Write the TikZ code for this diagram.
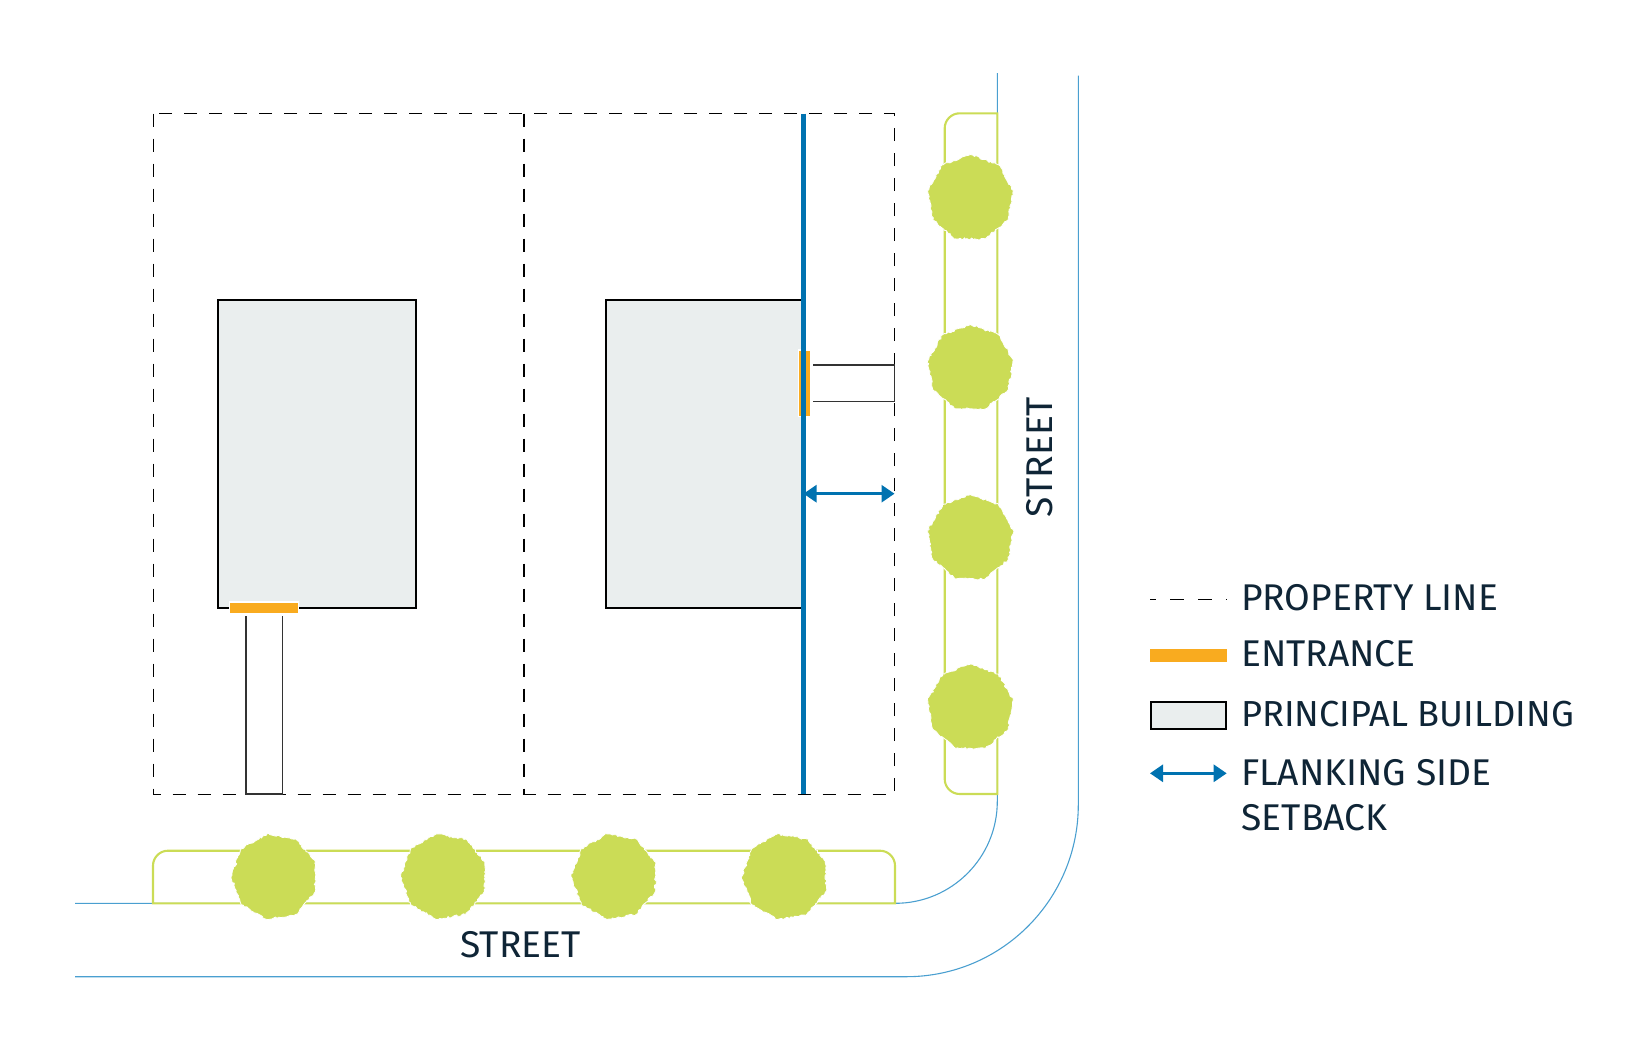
\documentclass[tikz,border=0pt]{standalone}
\usepackage{fontspec}
\setmainfont{Fira Sans}
\usetikzlibrary{arrows.meta,shapes.geometric,decorations.pathmorphing}
\definecolor{roadblue}{HTML}{4A9FD0}
\definecolor{flankblue}{HTML}{0072B0}
\definecolor{stripgreen}{HTML}{CBDC56}
\definecolor{entryorange}{HTML}{F9AB1F}
\definecolor{buildgrey}{HTML}{EAEEEE}
\definecolor{labelnavy}{HTML}{0F2536}
\tikzset{
	propline/.style={black, line width=0.5pt, dash pattern=on 6.5pt off 6pt},
	road/.style={roadblue, line width=0.55pt},
	strip/.style={stripgreen, line width=1.05pt},
	building/.style={draw=black, line width=1pt, fill=buildgrey},
	walk/.style={black!80, line width=0.55pt},
	entrance/.style={fill=entryorange, draw=white, line width=0.6pt},
	flank/.style={flankblue, line width=2.1pt},
	setback/.style={flankblue, line width=1.4pt, {Triangle[length=6.5pt,width=8.5pt]}-{Triangle[length=6.5pt,width=8.5pt]}},
	tree/.style={regular polygon, regular polygon sides=9, minimum size=43.5pt, inner sep=0pt, fill=stripgreen, draw=white, line width=0.4pt, decorate, decoration={random steps, segment length=1pt, amplitude=0.5pt}},
	lab/.style={text=labelnavy, font=\fontsize{18.6}{22.5}\selectfont, inner sep=0pt, anchor=base west}
}
\begin{document}
\begin{tikzpicture}[x=0.5pt, y=-0.5pt]
	\pgfmathsetseed{11}
	\useasboundingbox (0,0) rectangle (1650,1050);
	% street edges
	\draw[road] (75,903.3) [rounded corners=51pt] --(997.3,903.3)--(997.3,73);
	\draw[road] (75,976.7) [rounded corners=86pt] --(1078.3,976.7)--(1078.3,75.7);
	% planting strips
	\draw[strip] (153,903.3) [rounded corners=7.5pt] --(153,850.7)--(895,850.7) [sharp corners] --(895,903.3)--cycle;
	\draw[strip] (997.3,113.3) [rounded corners=7.5pt] --(944.7,113.3)--(944.7,794) [sharp corners] --(997.3,794)--cycle;
	% lots
	\draw[propline] (153,113.5) rectangle (894.5,794);
	\draw[propline, line width=0.65pt] (524,113.5)--(524,794);
	\draw[building] (217.5,300) rectangle (415.5,608);
	\draw[building] (606,300) rectangle (803,608);
	\draw[walk] (246,616)--(246,794)--(282.3,794)--(282.3,616);
	\draw[walk] (813,365)--(894.5,365)--(894.5,401.3)--(813,401.3);
	\draw[entrance] (229.5,602) rectangle (298.5,614);
	\draw[entrance] (798.5,350) rectangle (811,416.7);
	\draw[flank] (803.5,113.5)--(803.5,794);
	\coordinate (setback west) at (803.5,493.7);
	\coordinate (setback east) at (894.5,493.7);
	\draw[setback] (setback west)--(setback east);
	% trees
	\node[tree] (tree a) at (970.5,198) {};
	\node[tree] (tree b) at (970.5,368) {};
	\node[tree] (tree c) at (970.5,538) {};
	\node[tree] (tree d) at (970.5,707.5) {};
	\node[tree, rotate=90] (tree e) at (274.5,876.7) {};
	\node[tree, rotate=90] (tree f) at (444,876.7) {};
	\node[tree, rotate=90] (tree g) at (614.5,876.7) {};
	\node[tree, rotate=90] (tree h) at (785,876.7) {};
	% street names
	\node[lab] (street south) at (460,957) {STREET};
	\node[lab, rotate=90] (street east) at (1052,517.5) {STREET};
	% legend
	\coordinate (dash west) at (1150,599.3);
	\coordinate (dash east) at (1226.7,599.3);
	\draw[black, line width=0.5pt, dash pattern=on 3pt off 7pt on 7pt off 7pt on 7pt off 7pt on 3pt] (dash west)--(dash east);
	\fill[entryorange] (1150,649.3) rectangle (1226.5,661.7);
	\draw[building] (1150.5,701.5) rectangle (1226,729.3);
	\coordinate (key west) at (1150,773.3);
	\coordinate (key east) at (1226.7,773.3);
	\draw[setback] (key west)--(key east);
	\node[lab] (key line) at (1240.7,610.5) {PROPERTY LINE};
	\node[lab] (key entrance) at (1240.7,666.5) {ENTRANCE};
	\node[lab, font=\fontsize{18.1}{22.5}\selectfont] (key building) at (1240.7,726.5) {PRINCIPAL BUILDING};
	\node[lab] (key flank) at (1240.7,785.5) {FLANKING SIDE};
	\node[lab] (key setback) at (1241.2,830.5) {SETBACK};
\end{tikzpicture}
\end{document}
